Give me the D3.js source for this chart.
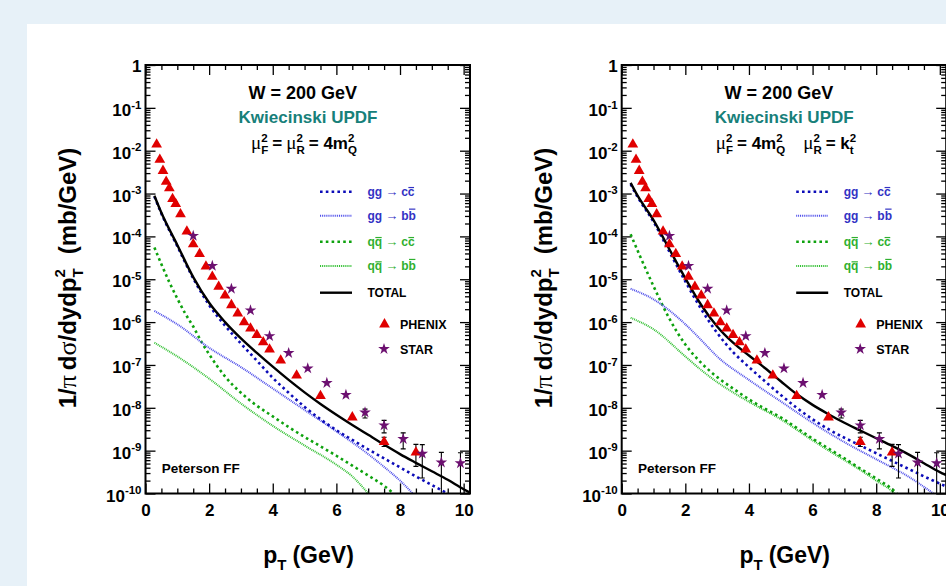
<!DOCTYPE html>
<html><head><meta charset="utf-8">
<script src="https://cdn.jsdelivr.net/npm/d3@7"></script>
<style>
html,body{margin:0;padding:0;background:#e7f1f8;}
svg{display:block;}
text{font-family:"Liberation Sans",Arial,Helvetica,sans-serif;font-weight:bold;}
</style></head><body>
<svg id="c" width="946" height="586"></svg>
<script>
// ---------- data ----------
const xTickLabels = [0, 2, 4, 6, 8, 10];
const yDecades = [-10,-9,-8,-7,-6,-5,-4,-3,-2,-1,0];

const phenixPt  = [0.35,0.45,0.55,0.65,0.75,0.85,0.95,1.1,1.3,1.5,1.7,1.9,2.1,2.3,2.5,2.7,2.9,3.1,3.3,3.5,3.7,3.9,4.25,4.75,5.5,6.5,7.5,8.5];
const phenixVal = [1.4e-2,6.2e-3,3.4e-3,1.9e-3,1.33e-3,7.5e-4,5.7e-4,3.3e-4,1.3e-4,6.6e-5,3.9e-5,2.0e-5,1.15e-5,6.7e-6,4.2e-6,2.5e-6,1.6e-6,1.0e-6,7.1e-7,5.0e-7,3.4e-7,2.3e-7,1.27e-7,5.7e-8,1.9e-8,6.0e-9,1.6e-9,9.1e-10];
const phenixLo  = [null,null,null,null,null,null,null,null,null,null,null,null,null,null,null,null,null,null,null,null,null,null,null,null,null,null,1.25e-9,4.3e-10];
const phenixHi  = [null,null,null,null,null,null,null,null,null,null,null,null,null,null,null,null,null,null,null,null,null,null,null,null,null,null,2.05e-9,1.4e-9];

const starPt  = [1.5,2.1,2.7,3.3,3.9,4.5,5.1,5.7,6.3,6.9,7.5,8.1,8.7,9.3,9.9];
const starVal = [1.03e-4,2.05e-5,6.0e-6,1.88e-6,4.7e-7,1.9e-7,8.3e-8,3.8e-8,2.0e-8,7.8e-9,3.9e-9,1.87e-9,8.5e-10,5.3e-10,5.1e-10];
const starLo  = [null,null,null,null,null,null,null,null,null,5.8e-9,2.6e-9,1.1e-9,2.3e-10,5e-11,5e-11];
const starHi  = [null,null,null,null,null,null,null,null,null,9.3e-9,5.1e-9,2.6e-9,1.38e-9,9.1e-10,8.9e-10];

// left panel: mu_F^2 = mu_R^2 = 4 m_Q^2
const ptTotL = [0.28,0.5,1,1.5,2,2.5,3,3.5,4,4.5,5,5.5,6,6.5,7,7.5,8,8.5,9,9.5,10,10.2];
const totalL = [8.9e-4,3.55e-4,6.3e-5,1.12e-5,2.82e-6,1.0e-6,4.17e-7,1.91e-7,9.1e-8,4.47e-8,2.29e-8,1.23e-8,6.9e-9,3.98e-9,2.34e-9,1.38e-9,8.3e-10,5.2e-10,3.3e-10,2.09e-10,1.26e-10,1.05e-10];
const ptGgcL = [0.28,0.5,1,1.5,2,2.5,3,3.5,4,4.5,5,5.5,6,6.5,7,7.5,8,8.5,9,9.5];
const ggccL  = [8.5e-4,3.4e-4,5.9e-5,1.05e-5,2.51e-6,8.3e-7,3.16e-7,1.26e-7,5.0e-8,2.24e-8,1.05e-8,5.4e-9,3.0e-9,1.78e-9,1.07e-9,6.6e-10,4.07e-10,2.5e-10,1.58e-10,1.0e-10];
const ptGgbL = [0.28,1,2,3,4,5,6,7,7.5,8,8.4];
const ggbbL  = [1.82e-6,8.9e-7,2.51e-7,8.9e-8,2.82e-8,8.9e-9,2.82e-9,8.3e-10,4.17e-10,2.0e-10,1.0e-10];
const ptQqcL = [0.28,0.5,0.75,1,1.25,1.5,1.75,2,2.5,3,3.5,4,4.5,5,5.5,6,6.5,7,7.5,7.8];
const qqccL  = [5.5e-5,2.24e-5,8.5e-6,3.55e-6,1.58e-6,7.9e-7,3.55e-7,1.78e-7,5.4e-8,2.24e-8,1.12e-8,6.3e-9,3.55e-9,2.09e-9,1.26e-9,7.6e-10,4.47e-10,2.63e-10,1.51e-10,1.0e-10];
const ptQqbL = [0.28,1,2,3,4,5,6,6.5,7];
const qqbbL  = [3.3e-7,1.58e-7,4.8e-8,1.26e-8,3.8e-9,1.32e-9,4.7e-10,2.5e-10,1.0e-10];

// right panel: mu_F^2 = 4 m_Q^2, mu_R^2 = k_t^2
const ptTotR = [0.28,0.5,1,1.5,2,2.5,3,3.5,4,4.5,5,5.5,6,6.5,7,7.5,8,8.5,9,9.5,10,10.2];
const totalR = [1.78e-3,8.9e-4,2.4e-4,5.0e-5,1.05e-5,2.51e-6,7.9e-7,3.3e-7,1.66e-7,8.5e-8,4.17e-8,2.09e-8,1.17e-8,7.1e-9,4.47e-9,2.95e-9,1.95e-9,1.29e-9,8.3e-10,5.1e-10,3.16e-10,2.69e-10];
const ptGgcR = [0.28,0.5,1,1.5,2,2.5,3,3.5,4,4.5,5,5.5,6,6.5,7,7.5,8,8.5,9,9.5,10,10.2];
const ggccR  = [1.66e-3,8.3e-4,2.19e-4,4.37e-5,8.9e-6,2.0e-6,5.6e-7,2.0e-7,8.9e-8,4.17e-8,2.0e-8,1.0e-8,5.4e-9,3.16e-9,2.0e-9,1.32e-9,8.7e-10,5.75e-10,3.8e-10,2.51e-10,1.7e-10,1.45e-10];
const ptGgbR = [0.28,1,2,2.5,3,4,5,6,7,8,9,9.8];
const ggbbR  = [6.0e-6,3.4e-6,8.9e-7,3.8e-7,1.58e-7,4.47e-8,1.41e-8,4.47e-9,1.58e-9,6.3e-10,2.51e-10,1.0e-10];
const ptQqcR = [0.28,0.57,1,1.5,2,2.5,3,3.5,4,4.5,5,5.5,6,6.5,7,7.5,8,8.5,8.65];
const qqccR  = [1.12e-4,3.55e-5,6.9e-6,1.2e-6,3.0e-7,1.12e-7,5.2e-8,2.82e-8,1.58e-8,9.5e-9,6.0e-9,3.4e-9,1.91e-9,1.12e-9,6.6e-10,3.8e-10,2.24e-10,1.26e-10,1.0e-10];
const ptQqbR = [0.28,1,2,2.5,3,3.5,4,5,6,7,7.5,8,8.5,8.6];
const qqbbR  = [1.26e-6,6.8e-7,1.58e-7,7.6e-8,3.98e-8,2.29e-8,1.38e-8,5.4e-9,1.74e-9,6.0e-10,3.55e-10,2.0e-10,1.12e-10,9.5e-11];

// ---------- styles ----------
const C = {
  ggcc: "#0c0cb8", ggbb: "#4e4eea", qqcc: "#0ea20e", qqbb: "#34c034", total: "#000",
  phenix: "#e00000", star: "#6c1070", teal: "#17807a", legBlue: "#3232c4", legGreen: "#2fb02f"
};
const lineStyles = {
  ggcc:  {color: C.ggcc,  w: 2.6, dash: "2.6,3.2"},
  ggbb:  {color: C.ggbb,  w: 2.0, dash: "1,0.9"},
  qqcc:  {color: C.qqcc,  w: 2.6, dash: "2.6,3.2"},
  qqbb:  {color: C.qqbb,  w: 2.0, dash: "1,0.9"},
  total: {color: C.total, w: 2.4, dash: null}
};

const svg = d3.select("#c");
svg.append("rect").attr("x", 27).attr("y", 24).attr("width", 946 - 27).attr("height", 586 - 24).attr("fill", "#fff");

// rich text helper
function rich(parent, x, y, parts, anchor, size, color, rotate) {
  const g = parent.append("g");
  const inner = g.append("g");
  let cx = 0;
  parts.forEach(p => {
    const s = p.size || size;
    const fill = p.color || color;
    if (p.gap != null) { cx += p.gap; return; }
    if (p.sup != null || p.sub != null) {
      const ss = p.ss || s * 0.66;
      let w = 0;
      if (p.sup != null) {
        const t = inner.append("text").attr("x", cx).attr("y", -s * 0.43).attr("font-size", ss).attr("fill", fill).text(p.sup);
        w = Math.max(w, t.node().getComputedTextLength());
      }
      if (p.sub != null) {
        const t = inner.append("text").attr("x", cx).attr("y", s * 0.3).attr("font-size", ss).attr("fill", fill).text(p.sub);
        w = Math.max(w, t.node().getComputedTextLength());
      }
      cx += w;
      return;
    }
    const t = inner.append("text").attr("x", cx).attr("y", p.dy || 0).attr("font-size", s).attr("fill", fill).text(p.t);
    if (p.family) t.style("font-family", p.family);
    if (p.weight) t.style("font-weight", p.weight);
    const w = t.node().getComputedTextLength();
    if (p.over) {
      const oy = p.over === "high" ? -s * 0.78 - 1.5 : -s * 0.58 - 1.5;
      inner.append("line").attr("x1", cx + 0.5).attr("x2", cx + w - 0.5).attr("y1", oy).attr("y2", oy)
        .attr("stroke", fill).attr("stroke-width", 1.2);
    }
    cx += w;
  });
  const shift = anchor === "middle" ? -cx / 2 : anchor === "end" ? -cx : 0;
  inner.attr("transform", `translate(${shift},0)`);
  g.attr("transform", `translate(${x},${y})` + (rotate ? ` rotate(${rotate})` : ""));
  return g;
}

const W = 324.5, TOP = 65, BOT = 493.5;
const y = d3.scaleLog().domain([1e-10, 1]).range([BOT, TOP]);

const panels = [
  { x0: 145.5, curves: {total: [ptTotL, totalL], ggcc: [ptGgcL, ggccL], ggbb: [ptGgbL, ggbbL], qqcc: [ptQqcL, qqccL], qqbb: [ptQqbL, qqbbL]}, mu: "same" },
  { x0: 621.7, curves: {total: [ptTotR, totalR], ggcc: [ptGgcR, ggccR], ggbb: [ptGgbR, ggbbR], qqcc: [ptQqcR, qqccR], qqbb: [ptQqbR, qqbbR]}, mu: "kt" }
];

const serif = "'Liberation Serif','DejaVu Serif',serif";

panels.forEach((P, pi) => {
  const x = d3.scaleLinear().domain([0, 10.2]).range([P.x0, P.x0 + W]);
  const x0 = P.x0, x1 = P.x0 + W;
  const g = svg.append("g");
  const clipId = "clip" + pi;
  svg.append("clipPath").attr("id", clipId).append("rect").attr("x", x0).attr("y", TOP).attr("width", W).attr("height", BOT - TOP);

  const majX = d3.range(0, 10.01, 2);
  const minX = d3.range(0, 10.21, 0.5).filter(v => Math.abs(v % 2) > 1e-6);
  const majY = yDecades.map(e => Math.pow(10, e));
  const minY = [];
  yDecades.slice(0, -1).forEach(e => { for (let k = 2; k <= 9; k++) minY.push(k * Math.pow(10, e)); });

  function tickAxis(axis, tr) {
    const a = g.append("g").attr("transform", tr).call(axis);
    a.select(".domain").remove();
    a.selectAll("line").attr("stroke-width", 1.3);
    return a;
  }
  const xb = tickAxis(d3.axisBottom(x).tickValues(xTickLabels).tickSizeInner(-10).tickSizeOuter(0).tickPadding(10).tickFormat(d3.format("d")), `translate(0,${BOT})`);
  xb.selectAll("text").attr("font-size", 17).attr("fill", "#000").style("font-family", "'Liberation Sans',Arial,sans-serif").style("font-weight", "bold");
  tickAxis(d3.axisBottom(x).tickValues(minX).tickSizeInner(-5).tickSizeOuter(0).tickFormat(""), `translate(0,${BOT})`);
  tickAxis(d3.axisTop(x).tickValues(majX).tickSizeInner(-10).tickSizeOuter(0).tickFormat(""), `translate(0,${TOP})`);
  tickAxis(d3.axisTop(x).tickValues(minX).tickSizeInner(-5).tickSizeOuter(0).tickFormat(""), `translate(0,${TOP})`);
  tickAxis(d3.axisLeft(y).tickValues(majY).tickSizeInner(-10).tickSizeOuter(0).tickFormat(""), `translate(${x0},0)`);
  tickAxis(d3.axisLeft(y).tickValues(minY).tickSizeInner(-5).tickSizeOuter(0).tickFormat(""), `translate(${x0},0)`);
  tickAxis(d3.axisRight(y).tickValues(majY).tickSizeInner(-10).tickSizeOuter(0).tickFormat(""), `translate(${x1},0)`);
  tickAxis(d3.axisRight(y).tickValues(minY).tickSizeInner(-5).tickSizeOuter(0).tickFormat(""), `translate(${x1},0)`);

  yDecades.forEach(e => {
    const yy = y(Math.pow(10, e));
    if (e === 0) rich(g, x0 - 4, yy + 7, [{t: "1"}], "end", 17, "#000");
    else rich(g, x0 - 4, yy + 8, [{t: "10"}, {sup: String(e), ss: 11.5}], "end", 17, "#000");
  });

  const line = d3.line().x(d => x(d[0])).y(d => y(d[1])).curve(d3.curveMonotoneX);
  const cg = g.append("g").attr("clip-path", `url(#${clipId})`);
  ["qqbb", "qqcc", "ggbb", "ggcc", "total"].forEach(k => {
    const [xs, vs] = P.curves[k];
    const st = lineStyles[k];
    cg.append("path").datum(xs.map((v, i) => [v, vs[i]]))
      .attr("d", line).attr("fill", "none").attr("stroke", st.color).attr("stroke-width", st.w)
      .attr("stroke-dasharray", st.dash);
  });

  function errBars(xs, lo, hi) {
    xs.forEach((v, i) => {
      if (lo[i] == null) return;
      const px = x(v), ya = y(hi[i]), yb = y(lo[i]);
      cg.append("line").attr("x1", px).attr("x2", px).attr("y1", ya).attr("y2", yb).attr("stroke", "#000").attr("stroke-width", 1.1);
      cg.append("line").attr("x1", px - 2.5).attr("x2", px + 2.5).attr("y1", ya).attr("y2", ya).attr("stroke", "#000").attr("stroke-width", 1.1);
      cg.append("line").attr("x1", px - 2.5).attr("x2", px + 2.5).attr("y1", yb).attr("y2", yb).attr("stroke", "#000").attr("stroke-width", 1.1);
    });
  }
  errBars(phenixPt, phenixLo, phenixHi);
  errBars(starPt, starLo, starHi);

  const tri = d3.symbol(d3.symbolTriangle, 50);
  const star = d3.symbol(d3.symbolStar, 42);
  g.append("g").selectAll("path").data(phenixPt.map((v, i) => [v, phenixVal[i]])).join("path")
    .attr("d", tri).attr("transform", d => `translate(${x(d[0])},${y(d[1])})`).attr("fill", C.phenix);
  g.append("g").selectAll("path").data(starPt.map((v, i) => [v, starVal[i]])).join("path")
    .attr("d", star).attr("transform", d => `translate(${x(d[0])},${y(d[1])})`).attr("fill", C.star);

  g.append("rect").attr("x", x0).attr("y", TOP).attr("width", W).attr("height", BOT - TOP)
    .attr("fill", "none").attr("stroke", "#000").attr("stroke-width", 2);

  rich(g, x0 + 157.2, 99, [{t: "W = 200 GeV"}], "middle", 18, "#000");
  rich(g, x0 + 162.5, 123.3, [{t: "Kwiecinski UPDF"}], "middle", 17, C.teal);
  const mu = {t: "μ", family: serif, weight: "normal", size: 19};
  if (P.mu === "same") {
    rich(g, x0 + 158.5, 149, [mu, {sup: "2", sub: "F", ss: 11.5}, {gap: 4}, {t: "="}, {gap: 4}, mu, {sup: "2", sub: "R", ss: 11.5}, {gap: 4}, {t: "= 4m"}, {sup: "2", sub: "Q", ss: 11.5}], "middle", 17, "#000");
  } else {
    rich(g, x0 + 164.3, 149, [mu, {sup: "2", sub: "F", ss: 11.5}, {gap: 4}, {t: "= 4m"}, {sup: "2", sub: "Q", ss: 11.5}, {gap: 18}, mu, {sup: "2", sub: "R", ss: 11.5}, {gap: 4}, {t: "= k"}, {sup: "2", sub: "t", ss: 11.5}], "middle", 17, "#000");
  }

  const arrow = {t: "→", weight: "normal", size: 13};
  const legRows = [
    {k: "ggcc", y: 191.7, col: C.legBlue, parts: [{t: "gg"}, {gap: 3}, arrow, {gap: 3}, {t: "c"}, {t: "c", over: "low"}]},
    {k: "ggbb", y: 215.7, col: C.legBlue, parts: [{t: "gg"}, {gap: 3}, arrow, {gap: 3}, {t: "b"}, {t: "b", over: "high"}]},
    {k: "qqcc", y: 241.7, col: C.legGreen, parts: [{t: "q"}, {t: "q", over: "low"}, {gap: 3}, arrow, {gap: 3}, {t: "c"}, {t: "c", over: "low"}]},
    {k: "qqbb", y: 266, col: C.legGreen, parts: [{t: "q"}, {t: "q", over: "low"}, {gap: 3}, arrow, {gap: 3}, {t: "b"}, {t: "b", over: "high"}]},
    {k: "total", y: 292.7, col: "#000", parts: [{t: "TOTAL"}]}
  ];
  legRows.forEach(r => {
    const st = lineStyles[r.k];
    g.append("line").attr("x1", x0 + 174.5).attr("x2", x0 + 206.5).attr("y1", r.y).attr("y2", r.y)
      .attr("stroke", st.color).attr("stroke-width", st.w).attr("stroke-dasharray", st.dash);
    rich(g, x0 + 222, r.y + 4.3, r.parts, "start", 12, r.col);
  });
  g.append("path").attr("d", tri).attr("transform", `translate(${x0 + 239},${324.3})`).attr("fill", C.phenix);
  rich(g, x0 + 254.5, 329, [{t: "PHENIX"}], "start", 12.5, "#000");
  g.append("path").attr("d", star).attr("transform", `translate(${x0 + 238.5},${349})`).attr("fill", C.star);
  rich(g, x0 + 254.5, 354, [{t: "STAR"}], "start", 12.5, "#000");

  rich(g, x0 + 16.2, 473.3, [{t: "Peterson FF"}], "start", 13.5, "#000");

  rich(g, x0 + 163, 563, [{t: "p"}, {sub: "T", ss: 15}, {gap: 6}, {t: "(GeV)"}], "middle", 23, "#000");
  rich(g, x0 - 70, 278, [{t: "1/"}, {t: "π", family: serif, weight: "normal", size: 26}, {gap: 5}, {t: "d"}, {t: "σ", family: serif, weight: "normal", size: 26}, {t: "/dydp"}, {sup: "2", sub: "T", ss: 15}, {gap: 14}, {t: "(mb/GeV)"}], "middle", 24, "#000", -90);
});
</script>
</body></html>
